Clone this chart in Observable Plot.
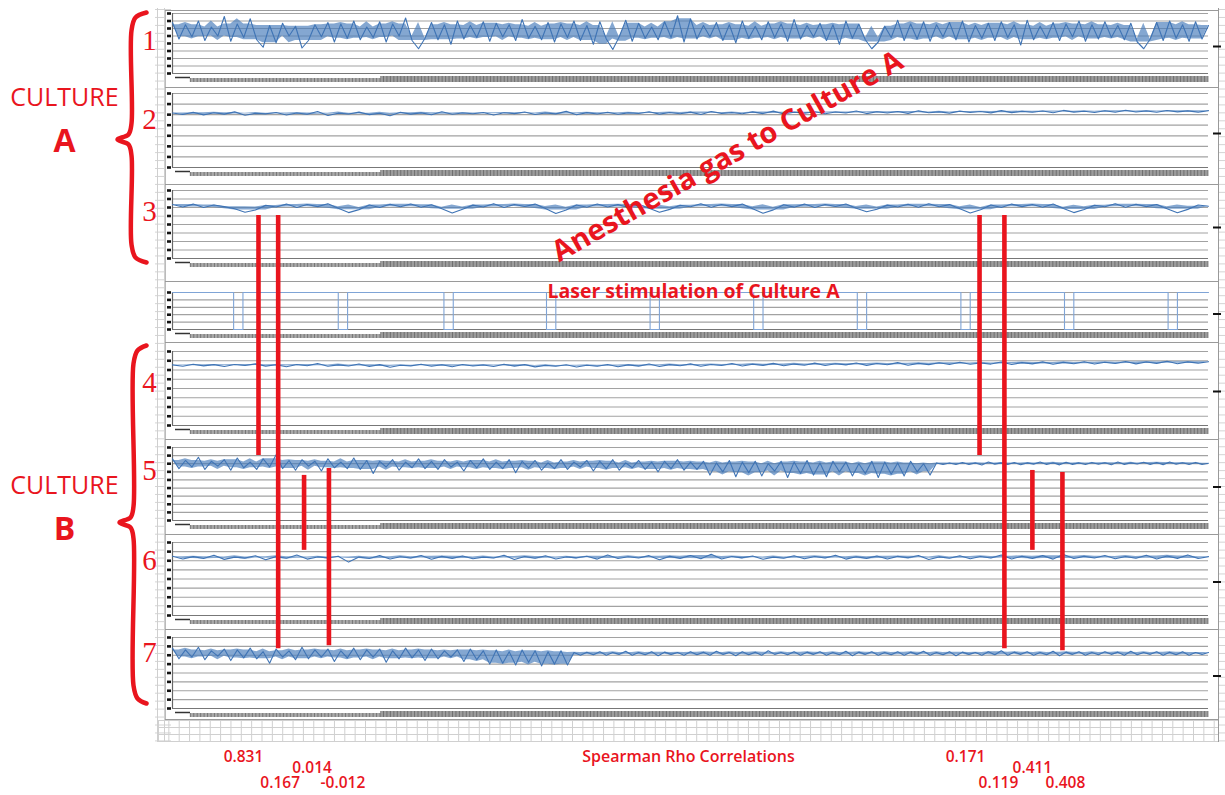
<!DOCTYPE html>
<html>
<head>
<meta charset="utf-8">
<script src="https://cdn.jsdelivr.net/npm/d3@7"></script>
<script src="https://cdn.jsdelivr.net/npm/@observablehq/plot@0.6"></script>
<style>
  html, body { margin: 0; padding: 0; background: #ffffff; }
  #chart svg { display: block; }
</style>
</head>
<body>
<div id="chart"></div>
<script>
// ---------------- DATA ----------------
// Trace values in grid units of each panel (0 = panel bottom gridline)
const trace1 = [
6.8,4.6,6.5,4.9,7.0,4.4,6.2,5.0,7.6,4.3, 6.6,4.8,7.3,4.5,3.5,6.4,4.1,6.7,5.0,6.3,
3.4,4.4,6.5,4.9,6.8,4.2,6.6,4.7,7.0,4.5, 6.2,4.8,6.9,4.2,6.6,5.0,7.4,4.4,3.3,4.7,
6.8,4.5,6.5,3.9,7.0,4.6,6.4,4.8,6.9,4.3, 6.7,4.9,6.5,4.4,7.2,4.7,6.3,4.5,6.8,4.2,
6.6,4.8,7.0,4.4,6.4,3.9,6.9,4.6,3.2,4.9, 7.1,4.3,6.7,4.7,6.2,4.5,6.9,4.8,7.7,4.2,
7.3,4.6,6.4,4.9,6.8,4.4,6.5,4.1,7.0,4.7, 6.3,4.5,6.9,4.8,6.6,4.3,7.2,4.6,6.4,4.9,
6.7,4.4,6.5,3.9,7.0,4.7,6.6,4.5,3.3,4.2, 6.3,4.8,7.1,4.4,6.6,4.6,6.9,4.3,6.5,4.9,
6.8,4.5,7.0,4.2,6.4,4.7,6.7,4.4,6.9,4.8, 6.5,3.8,7.1,4.5,6.3,4.7,6.8,4.4,6.6,4.9,
7.0,4.3,6.5,4.6,6.9,4.8,6.4,4.5,6.7,4.2, 3.3,4.6,6.8,4.4,7.0,4.7,6.5,4.3,6.9,4.6,
6.4];
const trace2 = [
5.15,5.02,5.22,4.98,5.18,5.05,5.26,4.95,5.12,5.08, 5.20,4.97,5.16,5.04,5.30,4.92,5.14,5.06,5.24,5.00,
5.13,4.90,5.22,5.05,5.17,4.99,5.28,5.03,5.15,5.08, 5.21,4.96,5.18,5.10,5.25,5.02,5.16,5.07,5.31,4.99,
5.19,5.06,5.23,5.04,5.17,5.11,5.27,5.05,5.20,5.09, 5.24,5.02,5.29,5.12,5.19,5.08,5.26,5.10,5.33,5.06,
5.22,5.14,5.28,5.09,5.25,5.16,5.34,5.10,5.27,5.15, 5.30,5.12,5.36,5.18,5.26,5.14,5.33,5.20,5.29,5.17,
5.38,5.19,5.31,5.22,5.35,5.18,5.40,5.24,5.32,5.21, 5.37,5.23,5.42,5.25,5.34,5.22,5.39,5.26,5.36,5.24,
5.38];
const trace3 = [
6.35,6.05,6.40,6.00,6.30,6.10,5.85,5.45,5.70,6.25, 6.05,6.40,6.00,6.35,6.10,6.45,5.90,5.40,5.75,6.30,
6.00,6.38,6.08,6.42,6.02,6.32,5.85,5.35,5.80,6.28, 6.05,6.45,6.00,6.36,6.12,6.40,5.88,5.30,5.70,6.30,
6.02,6.42,6.06,6.34,6.00,6.38,5.90,5.45,5.78,6.26, 6.08,6.44,6.02,6.36,6.10,6.40,5.86,5.32,5.72,6.32,
6.04,6.40,6.00,6.35,6.12,6.42,5.92,5.50,5.80,6.28, 6.06,6.38,6.02,6.44,6.08,6.34,5.84,5.36,5.74,6.30,
6.00,6.40,6.10,6.36,6.04,6.42,5.88,5.40,5.76,6.26, 6.08,6.44,6.02,6.38,6.10,6.36,5.86,5.38,5.78,6.30,
6.15];
const trace4 = [
6.55,6.40,6.62,6.45,6.58,6.38,6.60,6.48,6.66,6.42, 6.56,6.35,6.60,6.46,6.70,6.40,6.55,6.44,6.64,6.38,
6.58,6.30,6.52,6.45,6.62,6.40,6.56,6.36,6.60,6.44, 6.54,6.38,6.62,6.42,6.58,6.34,6.50,6.40,6.56,6.32,
6.52,6.40,6.60,6.36,6.55,6.42,6.64,6.38,6.58,6.46, 6.66,6.40,6.60,6.48,6.70,6.44,6.62,6.50,6.72,6.46,
6.64,6.52,6.74,6.48,6.68,6.55,6.76,6.50,6.70,6.56, 6.80,6.52,6.72,6.58,6.78,6.60,6.84,6.62,6.76,6.64,
6.86,6.60,6.80,6.66,6.88,6.62,6.82,6.68,6.90,6.64, 6.84,6.70,6.92,6.66,6.86,6.72,6.94,6.68,6.88,6.74,
6.90];
const trace5 = [
7.6,6.4,7.4,6.6,7.8,6.3,7.3,6.7,7.5,6.2, 7.7,6.5,7.2,6.3,7.6,6.6,8.1,6.4,7.4,6.2,
7.5,6.7,7.3,6.1,7.6,6.5,7.2,6.4,7.7,6.3, 7.4,5.8,7.3,6.6,7.5,6.2,7.2,6.5,7.6,6.4,
7.3,6.3,7.5,6.6,7.2,6.1,7.4,6.5,7.6,6.3, 7.2,6.4,7.5,5.9,7.3,6.5,7.4,6.2,7.1,6.4,
7.5,6.3,7.2,6.6,7.4,6.1,7.3,6.4,7.5,6.2, 7.1,6.5,7.4,6.3,7.2,6.0,7.3,6.4,7.5,6.2,
7.2,6.3,7.3,5.6,7.1,6.0,7.4,5.4,7.2,5.9, 7.3,5.5,7.0,6.1,7.3,5.3,7.2,5.8,7.4,5.6,
7.1,5.4,7.3,6.0,7.2,5.5,7.0,5.8,7.3,5.3, 7.2,5.7,7.1,5.5,7.3,6.0,7.0,5.6,7.1,6.9,
7.1,6.9,7.15,6.9,7.1,6.85,7.2,6.95,7.1,6.9, 7.15,6.88,7.1,6.95,7.2,6.9,7.12,6.86,7.18,6.92,
7.1,6.9,7.16,6.94,7.12,6.88,7.2,6.92,7.1,6.96, 7.18,6.9,7.14,6.88,7.2,6.94,7.12,6.9,7.16,6.92,
7.05];
const trace6 = [
6.50,6.20,6.45,6.25,6.60,6.15,6.40,6.30,6.55,6.10, 6.45,6.28,6.62,6.18,6.42,6.32,6.50,5.85,6.40,6.24,
6.56,6.20,6.44,6.30,6.58,6.16,6.48,6.26,6.52,6.22, 6.40,6.30,6.60,6.14,6.46,6.28,6.54,6.20,6.42,6.32,
6.50,6.18,6.62,6.24,6.44,6.30,6.56,6.12,6.48,6.26, 6.58,6.22,6.70,6.20,6.46,6.32,6.52,6.16,6.40,6.28,
6.55,6.22,6.46,6.30,6.60,6.18,6.44,6.26,6.52,6.20, 6.48,6.32,6.58,6.14,6.42,6.28,6.54,6.22,6.46,6.30,
6.62,6.20,6.50,6.26,6.56,6.18,6.68,6.24,6.48,6.30, 6.58,6.22,6.46,6.28,6.60,6.20,6.52,6.26,6.64,6.24,
6.45];
const trace7 = [
6.8,5.6,6.6,5.8,6.9,5.5,6.5,5.9,6.7,5.4, 6.6,5.7,6.8,5.6,6.4,5.1,6.7,5.8,6.5,5.5,
6.9,5.6,6.6,5.8,6.7,5.3,6.5,5.7,6.8,5.5, 6.6,5.8,6.7,5.2,6.5,5.6,6.8,5.7,6.6,5.4,
6.7,5.6,6.5,5.8,6.6,5.3,6.7,5.5,6.5,5.0, 6.6,5.1,6.4,4.9,6.6,5.2,6.5,4.8,6.4,5.0,
6.5,4.9,6.3,6.0,6.35,6.05,6.4,6.0,6.3,6.1, 6.45,6.0,6.3,6.05,6.4,5.95,6.35,6.1,6.3,6.0,
6.4,6.05,6.35,6.0,6.45,6.1,6.3,5.95,6.4,6.05, 6.35,6.0,6.5,6.1,6.3,6.05,6.4,6.0,6.35,6.1,
6.4,6.0,6.3,6.05,6.45,5.95,6.35,6.1,6.4,6.0, 6.3,6.05,6.4,6.0,6.35,6.1,6.45,6.0,6.3,6.05,
6.4,5.95,6.35,6.1,6.3,6.0,6.4,6.05,6.5,6.0, 6.35,6.1,6.4,6.0,6.3,6.05,6.45,5.95,6.35,6.1,
6.4,6.0,6.3,6.05,6.4,6.1,6.35,6.0,6.45,6.05, 6.3,6.1,6.4,6.0,6.35,6.05,6.4,6.0,6.3,6.1,
6.3];

// Laser stimulation of culture A: pulse onsets (time units 0..1000), width, levels
const laserOnsets = [59, 160, 262, 361, 461, 561, 661, 761, 861, 961];
const laserWidth = 9;
const laserHigh = 5, laserLow = 0;

// Correlation links (time, from panel/value, to panel/value) and Spearman rho values
const linkTimes   = [83, 102, 127, 151, 779, 803, 830, 859];
const linkFrom    = ["3", "3", "5", "5", "3", "3", "5", "5"];
const linkFromVal = [5.06, 5.06, 5.56, 6.42, 5.06, 5.06, 6.17, 5.93];
const linkTo      = ["5", "7", "6", "7", "5", "7", "6", "7"];
const linkToVal   = [8.0, 6.74, 7.14, 7.08, 8.0, 6.74, 7.14, 6.52];
const rhoValues   = ["0.831", "0.167", "0.014", "-0.012", "0.171", "0.119", "0.411", "0.408"];

const cultureLabels = ["CULTURE", "A", "CULTURE", "B"];
const titleGas = "Anesthesia gas to Culture A";
const titleLaser = "Laser stimulation of Culture A";
const titleRho = "Spearman Rho Correlations";

// ---------------- LAYOUT ----------------
const W = 1225, H = 795;
const X0 = 172, X1 = 1208;
const xs = Plot.scale({x: {domain: [0, 1000], range: [X0, X1]}});
const px = (p) => xs.invert(p);
const red = "#e9151e";
const blue = "#4a7ebb";

const layout = [
  {key: "1", frameTop: 10,  top: 13,  bottom: 73,  n: 8, label: 40},
  {key: "2", frameTop: 87,  top: 93,  bottom: 167, n: 7, label: 119},
  {key: "3", frameTop: 184, top: 190, bottom: 258, n: 8, label: 211},
  {key: "L", frameTop: 281, top: 292, bottom: 329, n: 5},
  {key: "4", frameTop: 342, top: 351, bottom: 425, n: 8, label: 382},
  {key: "5", frameTop: 439, top: 447, bottom: 520, n: 9, label: 470},
  {key: "6", frameTop: 534, top: 542, bottom: 615, n: 8, label: 560},
  {key: "7", frameTop: 629, top: 637, bottom: 708, n: 8, label: 652}
];
layout.forEach(p => { p.sy = Plot.scale({y: {domain: [0, p.n], range: [p.bottom, p.top]}}); });
const P = Object.fromEntries(layout.map(p => [p.key, p]));
const Y = (k, v) => P[k].sy.apply(v);

// grid rows
const grid = [];
layout.forEach(p => { for (let i = 0; i <= p.n; i++) grid.push({panel: p.key, y: Y(p.key, i), i}); });

// traces
const traces = [["1", trace1], ["2", trace2], ["3", trace3], ["4", trace4], ["5", trace5], ["6", trace6], ["7", trace7]];
const rows = [], bands = [];
for (const [k, vals] of traces) {
  const n = vals.length;
  const ys = vals.map(v => Y(k, v));
  ys.forEach((y, i) => rows.push({panel: k, t: i * 1000 / (n - 1), y}));
  for (let i = 0; i < n; i++) {
    const w = ys.slice(Math.max(0, i - 2), Math.min(n, i + 3)).sort((a, b) => a - b);
    bands.push({panel: k, t: i * 1000 / (n - 1), y1: w[1], y2: w[w.length - 2]});
  }
}

// laser square wave
const laserPts = [{t: 0, v: laserHigh}];
for (const o of laserOnsets) {
  laserPts.push({t: o, v: laserHigh}, {t: o, v: laserLow}, {t: o + laserWidth, v: laserLow}, {t: o + laserWidth, v: laserHigh});
}
laserPts.push({t: 1000, v: laserHigh});
laserPts.forEach(d => d.y = Y("L", d.v));

// red links
const links = linkTimes.map((t, i) => ({t, y1: Y(linkFrom[i], linkFromVal[i]), y2: Y(linkTo[i], linkToVal[i]), rho: rhoValues[i]}));
const rhoDx  = [-15, 2, 8, 14, -14, -6, 0, 3];
const rhoRow = [757, 783, 768, 783, 757, 783, 768, 783];
const rhoLabels = links.map((l, i) => ({x: px(xs.apply(l.t) + rhoDx[i]), y: rhoRow[i], text: l.rho}));

// brace builder
function brace(top, bottom, mid, xEnd, xSpine, xTip) {
  return [
    [xEnd, top], [xSpine + 4, top + 5], [xSpine, top + 18], [xSpine, mid - 16],
    [xSpine - 3, mid - 5], [xTip, mid], [xSpine - 3, mid + 5], [xSpine, mid + 16],
    [xSpine, bottom - 18], [xSpine + 4, bottom - 5], [xEnd, bottom]
  ].map(([x, y]) => ({x: px(x), y}));
}
const braceA = brace(12, 262, 139, 146, 131, 117);
const braceB = brace(345, 703, 522, 146, 133, 119);

// tick band texture
const tickCols = d3.range(176, 1208, 3.45);
const bandTicks = [];
layout.forEach(p => tickCols.forEach(c => { if (c > 189) bandTicks.push({x: px(c), y1: p.bottom + (c < 380 ? 5 : 3), y2: p.bottom + 9}); }));

// spreadsheet cells
const cellRows = d3.range(9, 744, 7.95);
const cellCols = d3.range(158, 1219, 10.35);

const marks = [
  // spreadsheet cell lines
  Plot.ruleY(cellRows, {y: d => d, x1: px(155), x2: px(171), stroke: "#d4d4d4"}),
  Plot.ruleY(cellRows, {y: d => d, x1: px(1218), x2: px(1226), stroke: "#d4d4d4"}),
  Plot.ruleX([157, 164], {x: d => px(d), y1: 8, y2: 742, stroke: "#cfcfcf"}),
  Plot.ruleX(cellCols, {x: d => px(d), y1: 720, y2: 742, stroke: "#d0d0d0"}),
  Plot.ruleY([720, 727, 734, 741], {y: d => d, x1: px(157), x2: px(1218), stroke: "#d0d0d0"}),
  // white chart area
  Plot.rect([0], {x1: px(165), x2: px(1217), y1: 10, y2: 719, fill: "white"}),
  // outer frame
  Plot.ruleX([1218], {x: d => px(d), y1: 8, y2: 742, stroke: "#999"}),
  Plot.ruleX([165], {x: d => px(d), y1: 10, y2: 719, stroke: "#bbb"}),
  // panel separators
  Plot.ruleY(layout, {y: "frameTop", x1: px(165), x2: px(1218), stroke: "#9a9a9a", strokeWidth: 1.2}),
  Plot.ruleY([719], {y: d => d, x1: px(165), x2: px(1218), stroke: "#9a9a9a"}),
  // gridlines
  Plot.ruleY(grid, {y: "y", x1: 0, x2: 1000, stroke: d => d.i === 0 ? "#777" : "#a2a2a2", strokeWidth: 1.2}),
  // left axis per panel
  Plot.ruleX(layout, {x: 0, y1: "top", y2: "bottom", stroke: "#666", strokeWidth: 1.2}),
  // left tick squares
  Plot.ruleY(grid, {y: "y", x1: px(167), x2: px(171), stroke: "#111", strokeWidth: 2.6}),
  // tick bands
  Plot.ruleY(layout, {y: d => d.bottom + 4, x1: px(175), x2: px(190), stroke: "#333", strokeWidth: 1.5}),
  Plot.rect(layout, {x1: px(190), x2: px(380), y1: d => d.bottom + 5, y2: d => d.bottom + 9, fill: "#a9a9a9"}),
  Plot.rect(layout, {x1: px(380), x2: px(1208), y1: d => d.bottom + 3, y2: d => d.bottom + 9, fill: "#9c9c9c"}),
  Plot.ruleX(bandTicks, {x: "x", y1: "y1", y2: "y2", stroke: "#4d4d4d", strokeOpacity: 0.55, strokeWidth: 1}),
  // right ticks
  Plot.ruleY(layout, {y: d => (d.top + d.bottom) / 2 + 3, x1: px(1213), x2: px(1221), stroke: "#111", strokeWidth: 2}),
  // traces
  Plot.areaY(bands, {x: "t", y1: "y1", y2: "y2", z: "panel", fill: blue, fillOpacity: 0.68}),
  Plot.line(rows, {x: "t", y: "y", z: "panel", stroke: "#3f74b5", strokeWidth: 1.1}),
  // laser
  Plot.line(laserPts, {x: "t", y: "y", stroke: "#7fa4d6", strokeWidth: 1.1}),
  // red correlation lines
  Plot.ruleX(links, {x: "t", y1: "y1", y2: "y2", stroke: red, strokeWidth: 4.6}),
  // braces
  Plot.line(braceA, {x: "x", y: "y", stroke: red, strokeWidth: 4.5, curve: "catmull-rom"}),
  Plot.line(braceB, {x: "x", y: "y", stroke: red, strokeWidth: 4.5, curve: "catmull-rom"}),
  // texts
  Plot.text(layout.filter(d => d.label), {x: px(149), y: "label", text: "key", fill: red, fontSize: 29, fontFamily: "Liberation Serif", lineAnchor: "middle"}),
  Plot.text([cultureLabels[0], cultureLabels[2]], {x: px(64), y: (d, i) => [97, 485][i], text: d => d, fill: red, fontSize: 25, fontWeight: 500, fontFamily: "Open Sans", lineAnchor: "middle"}),
  Plot.text([cultureLabels[1], cultureLabels[3]], {x: px(64), y: (d, i) => [141, 529][i], text: d => d, fill: red, fontSize: 32, fontWeight: 700, fontFamily: "Open Sans", lineAnchor: "middle"}),
  Plot.text([titleGas], {x: px(727), y: 156, text: d => d, fill: red, fontSize: 29, fontWeight: 700, fontFamily: "Open Sans", rotate: -29.5, lineAnchor: "middle"}),
  Plot.text([titleLaser], {x: px(693), y: 291, text: d => d, fill: red, fontSize: 19.5, fontWeight: 700, fontFamily: "Open Sans", lineAnchor: "middle"}),
  Plot.text([titleRho], {x: px(688), y: 756, text: d => d, fill: red, fontSize: 16, fontWeight: 600, fontFamily: "Open Sans", lineAnchor: "middle"}),
  Plot.text(rhoLabels, {x: "x", y: "y", text: "text", fill: red, fontSize: 15.5, fontWeight: 600, fontFamily: "Open Sans", lineAnchor: "middle"})
];

const chart = Plot.plot({
  width: W, height: H,
  marginTop: 0, marginRight: 0, marginBottom: 0, marginLeft: 0,
  style: {background: "white"},
  x: {domain: [0, 1000], range: [X0, X1], axis: null},
  y: {type: "identity", axis: null},
  marks
});
document.getElementById("chart").append(chart);
</script>
</body>
</html>
